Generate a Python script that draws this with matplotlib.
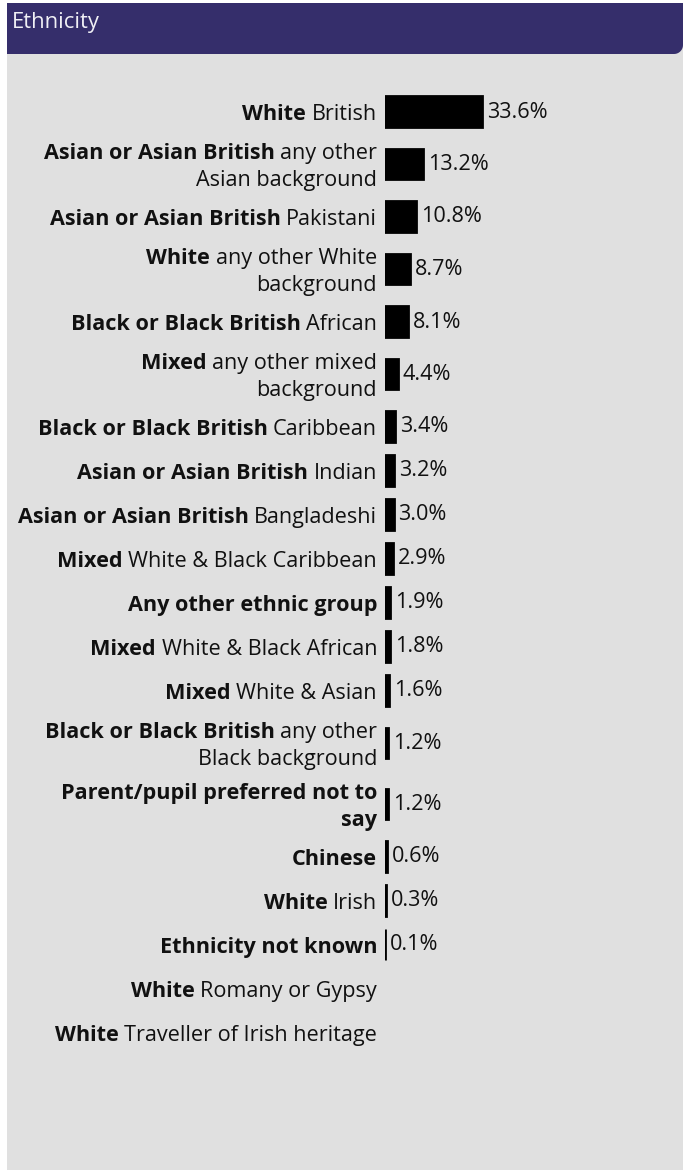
import matplotlib
matplotlib.use("Agg")
import matplotlib.pyplot as plt
from matplotlib.path import Path
from matplotlib.patches import PathPatch, Rectangle
import numpy as np

# ---------------- data ----------------
title = "Ethnicity"
label_bold = [
    "White", "Asian or Asian British", "Asian or Asian British", "White",
    "Black or Black British", "Mixed", "Black or Black British",
    "Asian or Asian British", "Asian or Asian British", "Mixed",
    "Any other ethnic group", "Mixed", "Mixed", "Black or Black British",
    "Parent/pupil preferred not to\nsay", "Chinese", "White",
    "Ethnicity not known", "White", "White",
]
label_rest = [
    "British", "any other\nAsian background", "Pakistani", "any other White\nbackground",
    "African", "any other mixed\nbackground", "Caribbean",
    "Indian", "Bangladeshi", "White & Black Caribbean",
    "", "White & Black African", "White & Asian", "any other\nBlack background",
    "", "", "Irish",
    "", "Romany or Gypsy", "Traveller of Irish heritage",
]
values = [33.6, 13.2, 10.8, 8.7, 8.1, 4.4, 3.4, 3.2, 3.0, 2.9,
          1.9, 1.8, 1.6, 1.2, 1.2, 0.6, 0.3, 0.1, None, None]

# ---------------- style ----------------
W, H, DPI = 683, 1170, 100
FONT = "Open Sans"
FS = 15.6
HEADER = "#352e6b"
PANEL = "#e0e0e0"
PX_PER_PCT = 2.9
EDGE_PT = 2.0
BAR_X0 = 384.8          # px
LABEL_RIGHT = 377       # px
FIRST_CENTER = 111.5
ROW_H1, ROW_EXTRA = 44, 17
LINE_GAP = 27
BAR_H = 30.5

fig = plt.figure(figsize=(W / DPI, H / DPI), dpi=DPI, facecolor="white")

# background overlay axes in pixel coords (y down)
ov = fig.add_axes([0, 0, 1, 1])
ov.set_xlim(0, W)
ov.set_ylim(H, 0)
ov.axis("off")

ov.add_patch(Rectangle((7, 3), W - 7, H - 3, facecolor=PANEL, edgecolor="none", zorder=0))
# header with rounded bottom-right corner
r = 9
x0, x1, y0, y1 = 7, W, 3, 54
ang = np.linspace(0, np.pi / 2, 12)
pts = [(x0, y0), (x1, y0), (x1, y1 - r)]
pts += [(x1 - r + r * np.cos(a), y1 - r + r * np.sin(a)) for a in ang]
pts += [(x0, y1), (x0, y0)]
codes = [Path.MOVETO] + [Path.LINETO] * (len(pts) - 2) + [Path.CLOSEPOLY]
ov.add_patch(PathPatch(Path(pts, codes), facecolor=HEADER, edgecolor="none", zorder=1))
ov.text(12, 28, title, fontsize=15.8, family=FONT, color="#f0f0f5", va="baseline", ha="left", zorder=2)

# ---------------- layout of rows ----------------
lines_per_row = []
for b, t in zip(label_bold, label_rest):
    bl = b.split("\n")
    rl = t.split("\n") if t else []
    lines_per_row.append(len(bl) + max(len(rl) - 1, 0))
heights = [ROW_H1 + ROW_EXTRA * (n - 1) for n in lines_per_row]
tops = np.concatenate([[0], np.cumsum(heights)[:-1]])
centers = FIRST_CENTER - heights[0] / 2 + tops + np.array(heights) / 2

# bar axes: x in percent, y in pixel rows
axw = W - BAR_X0
bx = fig.add_axes([BAR_X0 / W, 0, axw / W, 1])
bx.set_xlim(0, axw / PX_PER_PCT)
bx.set_ylim(H, 0)
bx.axis("off")

vals = np.array([v if v is not None else 0 for v in values], dtype=float)
has = np.array([v is not None for v in values])
bx.barh(centers[has], vals[has], height=BAR_H, left=0, color="black",
        edgecolor="black", linewidth=EDGE_PT, zorder=3)
for c, v in zip(centers[has], vals[has]):
    bx.annotate(f"{v:.1f}%", xy=(v, c + 6), xytext=(5, 0), textcoords="offset pixels",
                ha="left", va="baseline", fontsize=FS, family=FONT, color="#111111")

# ---------------- labels (mixed bold / regular) ----------------
renderer = fig.canvas.get_renderer()


def text_width(s, weight):
    t = ov.text(0, 0, s, fontsize=FS, family=FONT, fontweight=weight)
    w = t.get_window_extent(renderer).width
    t.remove()
    return w


space_w = text_width("a a", "normal") - text_width("aa", "normal")

for b, t, c, n in zip(label_bold, label_rest, centers, lines_per_row):
    bl = b.split("\n")
    rl = t.split("\n") if t else []
    segs = [[(s, "bold")] for s in bl]
    if rl:
        segs[-1].append((rl[0], "normal"))
        segs += [[(s, "normal")] for s in rl[1:]]
    for i, line in enumerate(segs):
        yb = c + 8.5 + (i - (n - 1) / 2) * LINE_GAP
        xr = LABEL_RIGHT
        for j, (s, wgt) in enumerate(reversed(line)):
            tx = ov.text(xr, yb, s, fontsize=FS, family=FONT, fontweight=wgt,
                         ha="right", va="baseline", color="#111111", zorder=4)
            xr -= tx.get_window_extent(renderer).width + space_w

fig.savefig("out.png", dpi=DPI, facecolor="white")
